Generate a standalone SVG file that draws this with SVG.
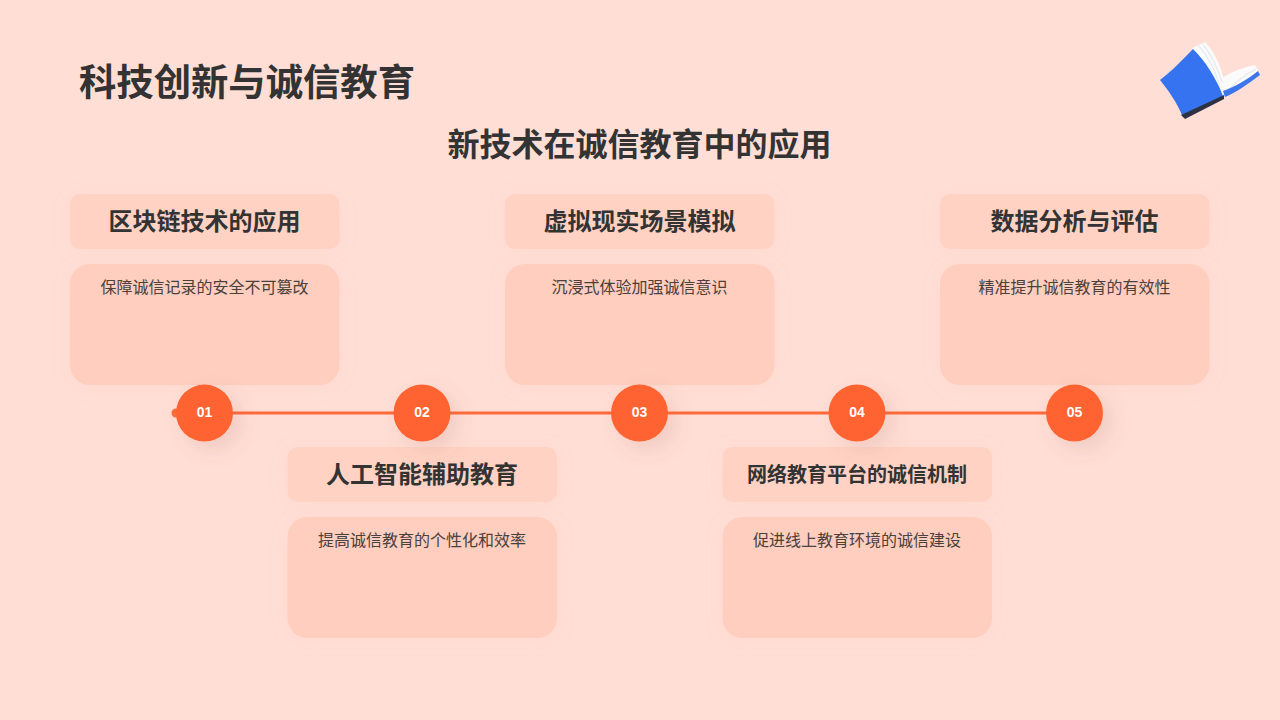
<svg xmlns="http://www.w3.org/2000/svg" width="1280" height="720" viewBox="0 0 1280 720">
<defs>
<filter id="soft" x="-20%" y="-25%" width="140%" height="150%"><feDropShadow dx="0" dy="2" stdDeviation="9" flood-color="#ffb8a0" flood-opacity="0.1"/></filter>
<filter id="cs" x="-80%" y="-80%" width="300%" height="300%"><feDropShadow dx="8" dy="8" stdDeviation="10" flood-color="#a06050" flood-opacity="0.15"/></filter>
</defs>
<style>
text{font-family:"Noto Sans CJK SC","Liberation Sans",sans-serif;text-anchor:middle}
.h{fill:#ffd2c4;filter:url(#soft)}
.b{fill:#ffcebe;filter:url(#soft)}
.ht{font-size:24px;font-weight:700;fill:#333}
.bt{font-size:16px;fill:#4a403c}
.c{fill:#ff6430;filter:url(#cs)}
.n{font-family:"Liberation Sans",sans-serif;font-size:14px;font-weight:700;fill:#fff}
</style>
<rect width="1280" height="720" fill="#ffded5"/>
<text x="247" y="96" style="font-size:37.330px;font-weight:700;fill:#333">科技创新与诚信教育</text>
<text x="639.500" y="155.500" style="font-size:32px;font-weight:700;fill:#333">新技术在诚信教育中的应用</text>
<g id="book">
<path d="M1192 48L1205 42C1214 52 1220 64 1223 77C1233 71 1244 67 1255 65L1259 72L1225 94L1222 98Z" fill="#fbfbfb"/>
<path d="M1198 45C1208 56 1216 72 1220 88M1203 44C1212 56 1218 68 1222 82M1228 90C1236 82 1246 74 1256 69" fill="none" stroke="#e9ecf1" stroke-width="1.500"/>
<path d="M1223 91C1235 87 1248 79 1258 71L1260 75C1248 84 1237 92 1225 97Z" fill="#3d76ec"/>
<path d="M1193 49C1181 61 1172 71 1160 80C1169 91 1177 103 1182 115L1223 96C1216 78 1206 62 1193 49Z" fill="#3573f0"/>
<path d="M1181 115L1224 95L1224 99L1185 119Z" fill="#2b3243"/>
</g>
<g id="connectors"><line x1="176" y1="413" x2="1075" y2="413" stroke="#ff6a3a" stroke-width="3"/><circle cx="176" cy="413" r="4.500" fill="#ff6a3a"/></g>
<g id="node-1"><rect class="h" x="70" y="194" width="269.500" height="55" rx="10"/><text class="ht" x="204.500" y="230">区块链技术的应用</text><rect class="b" x="70" y="264" width="269.500" height="121" rx="20"/><text class="bt" x="204.500" y="293">保障诚信记录的安全不可篡改</text><circle class="c" cx="204.500" cy="413" r="28.500"/><text class="n" x="204.500" y="417">01</text></g>
<g id="node-2"><rect class="h" x="287.500" y="447" width="269.500" height="55" rx="10"/><text class="ht" x="422" y="483">人工智能辅助教育</text><rect class="b" x="287.500" y="517" width="269.500" height="121" rx="20"/><text class="bt" x="422" y="546">提高诚信教育的个性化和效率</text><circle class="c" cx="422" cy="413" r="28.500"/><text class="n" x="422" y="417">02</text></g>
<g id="node-3"><rect class="h" x="505" y="194" width="269.500" height="55" rx="10"/><text class="ht" x="639.500" y="230">虚拟现实场景模拟</text><rect class="b" x="505" y="264" width="269.500" height="121" rx="20"/><text class="bt" x="639.500" y="293">沉浸式体验加强诚信意识</text><circle class="c" cx="639.500" cy="413" r="28.500"/><text class="n" x="639.500" y="417">03</text></g>
<g id="node-4"><rect class="h" x="722.500" y="447" width="269.500" height="55" rx="10"/><text class="ht" x="857" y="482" style="font-size:20px">网络教育平台的诚信机制</text><rect class="b" x="722.500" y="517" width="269.500" height="121" rx="20"/><text class="bt" x="857" y="546">促进线上教育环境的诚信建设</text><circle class="c" cx="857" cy="413" r="28.500"/><text class="n" x="857" y="417">04</text></g>
<g id="node-5"><rect class="h" x="940" y="194" width="269.500" height="55" rx="10"/><text class="ht" x="1074.500" y="230">数据分析与评估</text><rect class="b" x="940" y="264" width="269.500" height="121" rx="20"/><text class="bt" x="1074.500" y="293">精准提升诚信教育的有效性</text><circle class="c" cx="1074.500" cy="413" r="28.500"/><text class="n" x="1074.500" y="417">05</text></g>
</svg>
